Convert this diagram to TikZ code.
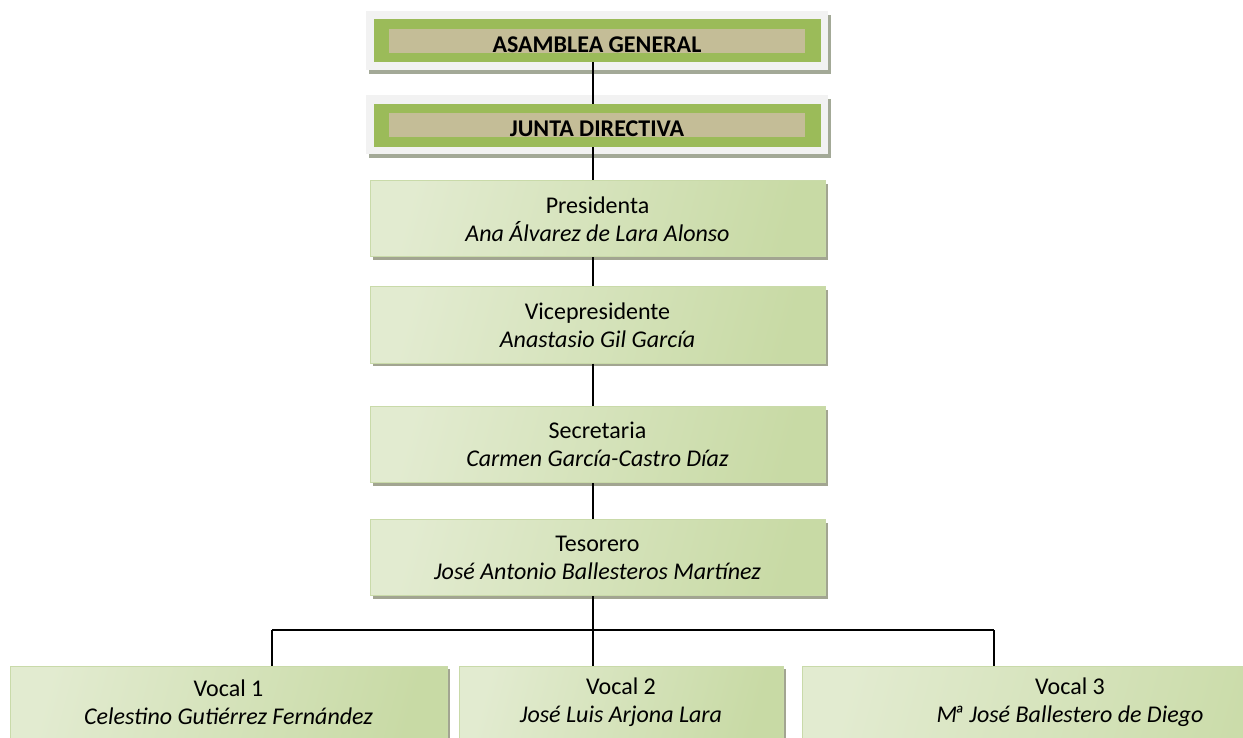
\documentclass[tikz,border=0pt]{standalone}
\usepackage{fontspec}
\setmainfont{Carlito}
\usetikzlibrary{shadows}
\definecolor{frame}{HTML}{F2F2F2}
\definecolor{framesh}{HTML}{A3A997}
\definecolor{olive}{HTML}{9BBB59}
\definecolor{tan}{HTML}{C4BD97}
\definecolor{gl}{HTML}{EEF3E4}
\definecolor{gm}{HTML}{E2EBD0}
\definecolor{gd}{HTML}{C8DAA5}
\definecolor{gedge}{HTML}{C9DAA9}
\definecolor{gsh}{HTML}{A2A591}
\tikzset{
  txt/.style={font=\fontsize{24}{28}\selectfont},
  outerframe/.style={rectangle, fill=frame, inner sep=0pt, minimum width=462pt, minimum height=59pt,
     drop shadow={shadow xshift=3pt, shadow yshift=-4pt, fill=framesh, opacity=1}},
  band/.style={rectangle, fill=olive, inner sep=0pt, minimum width=447pt, minimum height=43pt},
  tanbar/.style={rectangle, fill=tan, inner sep=0pt, minimum width=416pt, minimum height=24pt},
  headtxt/.style={font=\fontsize{24}{28}\selectfont\bfseries, inner sep=0pt},
  gbox/.style={rectangle, draw=gedge, line width=1pt, inner sep=0pt, align=center,
     left color=gm, middle color=gl, right color=gd, shading angle=75,
     minimum height=76pt, txt,
     drop shadow={shadow xshift=3pt, shadow yshift=-3pt, fill=gsh, opacity=1}},
  conn/.style={line width=1.6pt, black},
}
\begin{document}
\begin{tikzpicture}[x=1pt,y=-1pt]
\useasboundingbox (0,0) rectangle (1243,738);
% top boxes
\node[outerframe] (asmF) at (597,40.5) {};
\node[band] (asmB) at (597.5,40.5) {};
\node[tanbar] (asmT) at (597,41) {};
\node[headtxt] (asm) at (597,45) {ASAMBLEA GENERAL};
\node[outerframe] (junF) at (597,124.5) {};
\node[band] (junB) at (597.5,125.5) {};
\node[tanbar] (junT) at (597,125.5) {};
\node[headtxt] (jun) at (597,129) {JUNTA DIRECTIVA};
% chain
\node[gbox, minimum width=455pt] (pres) at (597.5,219) {Presidenta\\\textit{Ana Álvarez de Lara Alonso}};
\node[gbox, minimum width=455pt] (vice) at (597.5,325) {Vicepresidente\\\textit{Anastasio Gil García}};
\node[gbox, minimum width=455pt] (secr) at (597.5,444.5) {Secretaria\\\textit{Carmen García-Castro Díaz}};
\node[gbox, minimum width=455pt] (tes) at (597.5,557.5) {Tesorero\\\textit{José Antonio Ballesteros Martínez}};
% vocals
\node[gbox, minimum width=437pt, minimum height=72pt] (v1) at (228.5,702) {Vocal 1\\\textit{Celestino Gutiérrez Fernández}};
\node[gbox, minimum width=324pt, minimum height=72pt] (v2) at (621,702) {Vocal 2\\\textit{José Luis Arjona Lara}};
\node[gbox, minimum width=536pt, minimum height=72pt] (v3) at (1070,702) {Vocal 3\\\textit{M\kern-3.5ptª José Ballestero de Diego}};
% connectors
\draw[conn] (asmB.south -| 593,0) -- (junB.north -| 593,0);
\draw[conn] (junB.south -| 593,0) -- (pres.north -| 593,0);
\draw[conn] (pres.south -| 593,0) -- (vice.north -| 593,0);
\draw[conn] (vice.south -| 593,0) -- (secr.north -| 593,0);
\draw[conn] (secr.south -| 593,0) -- (tes.north -| 593,0);
\coordinate (busL) at (272,630);
\coordinate (busM) at (593,630);
\coordinate (busR) at (994,630);
\draw[conn] (tes.south -| busM) -- (busM);
\draw[conn] (busL) -- (busR);
\draw[conn] (busL) -- (busL |- v1.north);
\draw[conn] (busM) -- (busM |- v2.north);
\draw[conn] (busR) -- (busR |- v3.north);
\end{tikzpicture}
\end{document}
